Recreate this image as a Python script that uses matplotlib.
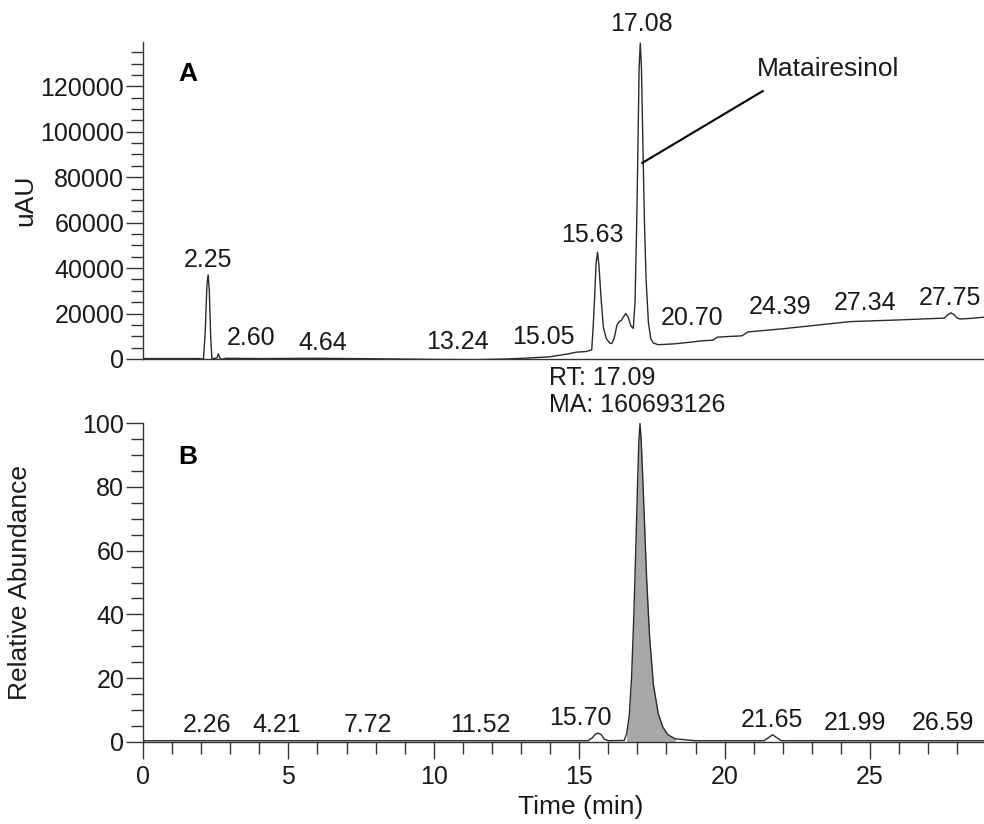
"""HPLC-UV 与 LC-MS 色谱图 (matairesinol)"""

import numpy as np
import matplotlib
matplotlib.use('Agg')
import matplotlib.pyplot as plt
from matplotlib.ticker import MultipleLocator

plt.rcParams['font.family'] = ['Liberation Sans', 'DejaVu Sans']

# 上图 A: UV 色谱 (min, uAU)
uv_time = [0.0, 1.9, 2.08, 2.14, 2.20, 2.24, 2.28, 2.33, 2.37, 2.45, 2.55, 2.59,
           2.64, 2.70, 2.85, 4.0, 6.0, 8.0, 10.0, 11.5, 12.5, 13.2, 14.0, 14.6,
           14.9, 15.25, 15.43, 15.48, 15.53, 15.58, 15.63, 15.68, 15.75, 15.83,
           15.93, 16.05, 16.12, 16.20, 16.30, 16.38, 16.45, 16.52, 16.60, 16.68,
           16.78, 16.86, 16.92, 16.97, 17.01, 17.06, 17.10, 17.14, 17.19, 17.24,
           17.30, 17.38, 17.46, 17.55, 17.72, 18.3, 18.9, 19.2, 19.6, 19.75, 20.0,
           20.6, 20.8, 22.0, 24.2, 24.4, 26.0, 27.55, 27.68, 27.78, 27.88, 28.0,
           28.1, 28.5, 28.92]
uv_signal = [200, 200, 0, 12000, 33000, 37000, 30000, 9000, 0, 300, 500, 2300,
             600, -200, 300, 200, 300, 100, -200, -300, 0, 400, 1000, 2200,
             3000, 3300, 4000, 14000, 27000, 42000, 47000, 41000, 27000, 14000,
             9000, 7000, 6800, 9000, 15000, 16500, 17000, 18500, 20000, 18500,
             14500, 13500, 25000, 55000, 85000, 128000, 139000, 128000, 95000, 62000,
             35000, 16000, 9000, 7000, 6300, 6700, 7500, 8000, 8300, 9600, 9800,
             10200, 11900, 13300, 16300, 16500, 17200, 18000, 19500, 20300, 19600, 18000,
             17600, 17900, 18400]

uv_peak_labels = ['2.25', '2.60', '4.64', '13.24', '15.05', '15.63', '17.08',
                  '20.70', '24.39', '27.34', '27.75']
uv_label_x = [2.24, 3.70, 6.19, 10.80, 13.76, 15.46, 17.13, 18.87, 21.90, 24.83, 27.75]
uv_label_y = [43700, 9200, 7000, 7500, 9800, 54700, 147400, 18000, 23100, 24500, 26800]

# 下图 B: 质谱 (min, relative abundance)
ms_time = [0.0, 15.3, 15.45, 15.55, 15.66, 15.76, 15.86, 16.0, 16.55, 16.63, 16.72,
           16.80, 16.88, 16.95, 17.01, 17.05, 17.09, 17.13, 17.18, 17.24, 17.32,
           17.42, 17.55, 17.72, 17.88, 18.05, 18.3, 19.0, 21.35, 21.5, 21.65, 21.8,
           21.95, 28.92]
ms_abund = [0.3, 0.3, 1.2, 2.3, 2.7, 2.2, 0.8, 0.3, 0.4, 2.5, 8,
            20, 40, 62, 82, 94, 100, 95, 84, 70, 51,
            33, 18, 8.7, 4.5, 2.2, 0.9, 0.3, 0.3, 1.2, 2.2, 1.2,
            0.3, 0.3]

ms_peak_labels = ['2.26', '4.21', '7.72', '11.52', '15.70', '21.65', '21.99', '26.59']
ms_label_x = [2.21, 4.60, 7.73, 11.59, 15.05, 21.62, 24.48, 27.52]
ms_label_y = [5.2, 5.2, 5.2, 5.2, 7.3, 6.8, 5.8, 5.8]

X_MAX = 28.92
FS = 18
FS_LABEL = 19
INK = '#1a1a1a'

fig = plt.figure(figsize=(9.84, 8.24), dpi=100)
W, H = 984, 824
ax_a = fig.add_axes([143 / W, (H - 359) / H, (W - 143) / W, 317 / H])
ax_b = fig.add_axes([143 / W, (H - 741.7) / H, (W - 143) / W, 318.4 / H])

for ax in (ax_a, ax_b):
    ax.set_xlim(0, X_MAX)
    for s in ('top', 'right'):
        ax.spines[s].set_visible(False)
    for s in ('left', 'bottom'):
        ax.spines[s].set_color('#333333')
        ax.spines[s].set_linewidth(1.0)
    ax.tick_params(axis='both', which='major', length=12, width=1.0,
                   color='#333333', labelsize=FS, labelcolor=INK)
    ax.tick_params(axis='both', which='minor', length=8.5, width=1.0, color='#333333')
    ax.tick_params(axis='y', which='both', pad=1.5)
    ax.tick_params(axis='x', which='both', pad=5)

# --- A ---
ax_a.plot(uv_time, uv_signal, color='#2a2a2a', linewidth=1.0)
ax_a.set_ylim(0, 139500)
ax_a.yaxis.set_major_locator(MultipleLocator(20000))
ax_a.yaxis.set_minor_locator(MultipleLocator(5000))
ax_a.set_yticks(np.arange(0, 140000, 20000))
ax_a.tick_params(axis='x', which='both', bottom=False, labelbottom=False)
ax_a.set_ylabel('uAU', fontsize=FS_LABEL, color=INK, va='center')
ax_a.yaxis.set_label_coords(-0.14, 0.5)
for lab, x, y in zip(uv_peak_labels, uv_label_x, uv_label_y):
    ax_a.text(x, y, lab, fontsize=FS, color=INK, ha='center', va='center', clip_on=False)
ax_a.text(1.55, 125300, 'A', fontsize=19, fontweight='bold', ha='center', va='center')
ax_a.text(23.55, 127500, 'Matairesinol', fontsize=FS_LABEL, color=INK, ha='center', va='center')
ax_a.plot([21.31, 17.17], [117900, 86300], color='black', linewidth=1.5)

# --- B ---
ms_t = np.array(ms_time)
ms_v = np.array(ms_abund)
ax_b.fill_between(ms_t, ms_v, where=(ms_t >= 16.6) & (ms_t <= 18.3),
                  color='#a8a8a8', linewidth=0)
ax_b.plot(ms_t, ms_v, color='#2a2a2a', linewidth=1.0)
ax_b.set_ylim(0, 100)
ax_b.yaxis.set_major_locator(MultipleLocator(20))
ax_b.yaxis.set_minor_locator(MultipleLocator(5))
ax_b.xaxis.set_major_locator(MultipleLocator(5))
ax_b.xaxis.set_minor_locator(MultipleLocator(1))
ax_b.set_ylabel('Relative Abundance', fontsize=FS_LABEL, color=INK, va='center')
ax_b.yaxis.set_label_coords(-0.146, 0.5)
ax_b.set_xlabel('Time (min)', fontsize=FS_LABEL, color=INK)
ax_b.xaxis.label.set_va('center')
ax_b.xaxis.set_label_coords(0.52, -0.205)
for lab, x, y in zip(ms_peak_labels, ms_label_x, ms_label_y):
    ax_b.text(x, y, lab, fontsize=FS, color=INK, ha='center', va='center', clip_on=False)
ax_b.text(13.96, 114.3, 'RT: 17.09', fontsize=FS, color=INK, ha='left', va='center', clip_on=False)
ax_b.text(13.96, 105.8, 'MA: 160693126', fontsize=FS, color=INK, ha='left', va='center', clip_on=False)
ax_b.text(1.55, 89.5, 'B', fontsize=19, fontweight='bold', ha='center', va='center')

fig.savefig('out.png', dpi=100)
plt.close(fig)
